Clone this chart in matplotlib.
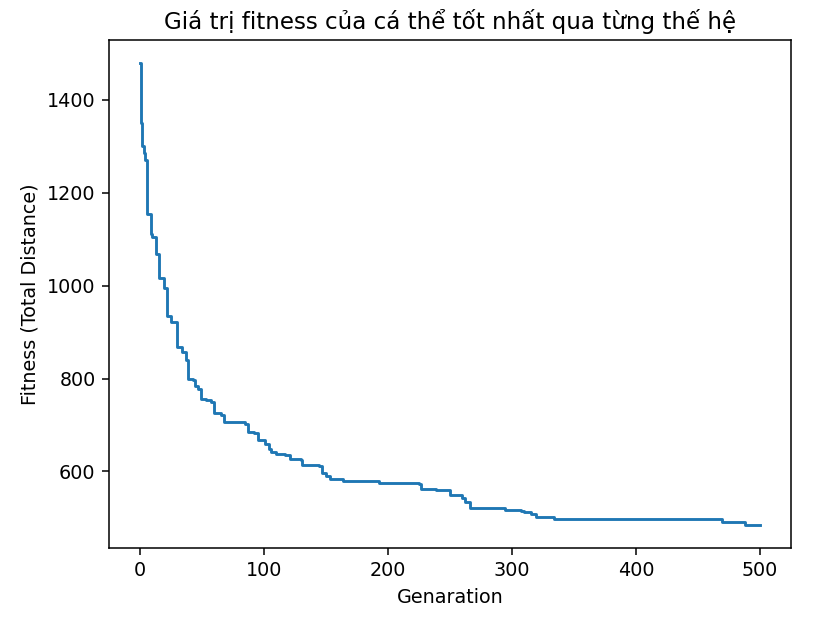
import matplotlib
matplotlib.use("Agg")
import matplotlib.pyplot as plt

# generations where the best fitness changes, and the new value
gen_change = [0, 1, 2, 3, 4, 6, 9, 10, 13, 15, 19, 22, 25, 30, 34, 37, 39, 43, 44,
              47, 49, 53, 57, 60, 65, 68, 85, 87, 92, 95, 101, 104, 106, 110, 117,
              121, 130, 131, 144, 147, 150, 153, 164, 193, 225, 227, 239, 250, 260,
              262, 266, 294, 307, 310, 315, 319, 334, 469, 488, 500]
best_fitness = [1479, 1350, 1300, 1285, 1270, 1155, 1112, 1104, 1069, 1017, 994, 935,
                921, 867, 857, 839, 800, 796, 785, 778, 757, 753, 750, 725, 721, 707,
                703, 685, 682, 667, 660, 648, 642, 637, 635, 626, 624, 615, 612, 596,
                590, 584, 580, 576, 572, 562, 560, 549, 543, 535, 521, 517, 514, 512,
                508, 501, 498, 491, 485, 485]

dpi = 138
fig = plt.figure(figsize=(824 / dpi, 623 / dpi), dpi=dpi)
fig.subplots_adjust(left=109 / 824, right=791 / 824, bottom=1 - 548 / 623, top=1 - 40 / 623)
ax = fig.add_subplot(111)

ax.step(gen_change, best_fitness, where='post')
ax.set_title('Giá trị fitness của cá thể tốt nhất qua từng thế hệ')
ax.set_xlabel('Genaration')
ax.set_ylabel('Fitness (Total Distance)')

fig.savefig('out.png', dpi=dpi)
